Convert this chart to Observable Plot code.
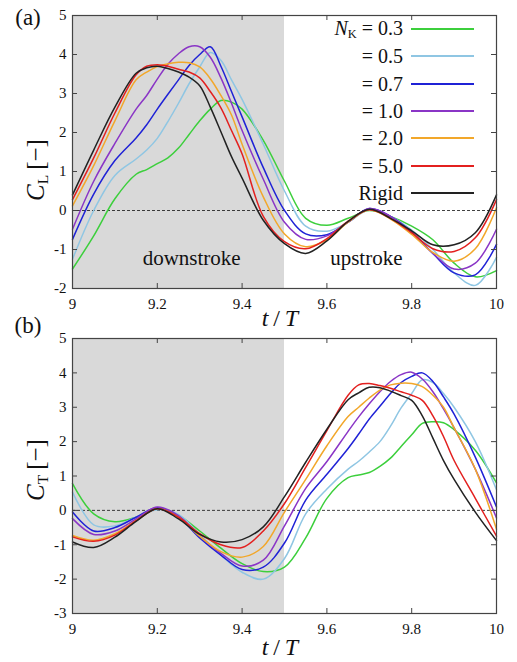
<!DOCTYPE html>
<html><head><meta charset="utf-8">
<script src="https://cdn.jsdelivr.net/npm/d3@7"></script>
<script src="https://cdn.jsdelivr.net/npm/@observablehq/plot@0.6"></script>
<style>
body{margin:0;background:#fff;}
#wrap{position:relative;width:517px;height:662px;font-family:"Liberation Serif","Times New Roman",serif;color:#111;overflow:hidden;}
.abs{position:absolute;white-space:nowrap;line-height:1;}
.c{transform:translate(-50%,-50%);}
.rot{transform:translate(-50%,-50%) rotate(-90deg);}
sub{font-size:62%;vertical-align:-0.25em;font-style:normal;}
.leg{position:absolute;font-size:20px;line-height:1;white-space:nowrap;}
</style></head><body><div id="wrap"></div>
<script>
// ---------- data ----------
const seriesLabels = ["0.3","0.5","0.7","1.0","2.0","5.0","Rigid"];
const seriesColors = ["#3ccf3c","#8fc6e3","#1f22d6","#8a35c6","#f2a72a","#e3201f","#222222"];
const xTicks = [9, 9.2, 9.4, 9.6, 9.8, 10];
const yTicksA = [-2, -1, 0, 1, 2, 3, 4, 5];
const yTicksB = [-3, -2, -1, 0, 1, 2, 3, 4, 5];
const shadeStart = 9, shadeEnd = 9.5;
const phaseLabels = ["downstroke", "upstroke"];
const phaseT = [9.281, 9.693];
const phaseV = [-1.22, -1.22];

const tA = [9, 9.05, 9.1, 9.15, 9.175, 9.2, 9.225, 9.25, 9.275, 9.3, 9.325, 9.35, 9.375, 9.4, 9.45, 9.5, 9.55, 9.6, 9.65, 9.7, 9.75, 9.8, 9.85, 9.9, 9.95, 10];
const cL_03 = [-1.5, -0.65, 0.3, 0.93, 1.05, 1.2, 1.35, 1.6, 1.95, 2.3, 2.6, 2.82, 2.78, 2.6, 1.8, 0.75, -0.2, -0.38, -0.2, 0.0, -0.15, -0.4, -0.75, -1.35, -1.7, -1.54];
const cL_05 = [-1.25, 0.0, 0.9, 1.32, 1.55, 1.85, 2.28, 2.75, 3.25, 3.68, 4.05, 3.85, 3.35, 2.85, 1.7, 0.5, -0.4, -0.53, -0.3, 0.02, -0.15, -0.5, -1.0, -1.6, -1.92, -1.2];
const cL_07 = [-0.74, 0.42, 1.28, 1.86, 2.2, 2.6, 2.98, 3.35, 3.72, 4.0, 4.2, 3.7, 3.05, 2.4, 1.1, 0.0, -0.6, -0.62, -0.3, 0.05, -0.15, -0.55, -1.1, -1.6, -1.65, -0.87];
const cL_10 = [-0.48, 0.75, 1.72, 2.6, 2.95, 3.37, 3.75, 4.02, 4.2, 4.2, 3.93, 3.4, 2.75, 2.05, 0.8, -0.3, -0.74, -0.65, -0.3, 0.05, -0.15, -0.58, -1.1, -1.5, -1.35, -0.48];
const cL_20 = [0.12, 1.15, 2.3, 3.35, 3.55, 3.69, 3.76, 3.8, 3.79, 3.68, 3.38, 2.95, 2.45, 1.7, 0.35, -0.6, -0.93, -0.75, -0.3, 0.02, -0.22, -0.61, -1.08, -1.3, -0.98, 0.07];
const cL_50 = [0.28, 1.35, 2.5, 3.48, 3.7, 3.74, 3.7, 3.62, 3.55, 3.4, 3.05, 2.63, 2.05, 1.45, -0.15, -0.8, -0.98, -0.72, -0.27, 0.02, -0.2, -0.57, -0.98, -1.05, -0.7, 0.28];
const cL_rigid = [0.4, 1.55, 2.65, 3.52, 3.66, 3.7, 3.64, 3.55, 3.42, 3.2, 2.65, 2.02, 1.38, 0.83, -0.25, -0.85, -1.1, -0.78, -0.28, 0.03, -0.2, -0.52, -0.88, -0.88, -0.57, 0.4];

const tB = [9, 9.05, 9.1, 9.15, 9.2, 9.25, 9.3, 9.35, 9.4, 9.45, 9.5, 9.55, 9.6, 9.65, 9.675, 9.7, 9.725, 9.75, 9.775, 9.8, 9.825, 9.85, 9.875, 9.9, 9.95, 10];
const cT_03 = [0.78, -0.1, -0.33, -0.2, 0.05, -0.15, -0.6, -1.1, -1.55, -1.78, -1.65, -0.8, 0.35, 0.95, 1.03, 1.1, 1.28, 1.52, 1.86, 2.2, 2.53, 2.58, 2.55, 2.35, 1.75, 0.8];
const cT_05 = [0.53, -0.42, -0.45, -0.2, 0.02, -0.12, -0.7, -1.3, -1.8, -2.0, -1.4, -0.1, 0.62, 1.2, 1.43, 1.7, 2.0, 2.45, 2.98, 3.4, 3.8, 3.72, 3.4, 3.0, 2.0, 0.6];
const cT_07 = [-0.05, -0.6, -0.5, -0.2, 0.08, -0.2, -0.8, -1.3, -1.72, -1.65, -0.95, 0.3, 1.05, 1.8, 2.22, 2.66, 3.03, 3.4, 3.72, 3.9, 4.0, 3.75, 3.3, 2.8, 1.55, 0.1];
const cT_10 = [-0.24, -0.7, -0.6, -0.25, 0.1, -0.15, -0.75, -1.25, -1.62, -1.45, -0.45, 0.64, 1.42, 2.3, 2.72, 3.1, 3.45, 3.75, 3.95, 4.02, 3.82, 3.45, 2.95, 2.4, 1.2, -0.22];
const cT_20 = [-0.73, -0.87, -0.68, -0.3, 0.05, -0.2, -0.75, -1.2, -1.36, -1.05, -0.05, 0.9, 1.88, 2.73, 3.0, 3.27, 3.5, 3.65, 3.7, 3.69, 3.6, 3.35, 3.0, 2.4, 1.2, -0.55];
const cT_50 = [-0.77, -0.9, -0.72, -0.3, 0.05, -0.2, -0.68, -1.0, -1.08, -0.6, 0.2, 1.25, 2.32, 3.35, 3.65, 3.69, 3.63, 3.55, 3.45, 3.35, 3.2, 2.75, 2.15, 1.45, 0.35, -0.75];
const cT_rigid = [-0.92, -1.08, -0.78, -0.32, 0.05, -0.25, -0.7, -0.92, -0.85, -0.48, 0.4, 1.4, 2.36, 3.22, 3.42, 3.58, 3.57, 3.47, 3.34, 3.2, 2.75, 2.1, 1.45, 0.9, -0.05, -0.88];

// ---------- build ----------
const cLSeries = [cL_03, cL_05, cL_07, cL_10, cL_20, cL_50, cL_rigid];
const cTSeries = [cT_03, cT_05, cT_07, cT_10, cT_20, cT_50, cT_rigid];
const rows = (ts, series) => seriesLabels.flatMap((s, i) => ts.map((t, j) => ({t, v: series[i][j], s})));
const dataA = rows(tA, cLSeries);
const dataB = rows(tB, cTSeries);

const W = 517, ML = 72, MR = 21;
const fmt = d => String(d);
const font = "'Liberation Serif','Times New Roman',serif";

function panel({data, yDomain, yTicks, height, mt, mb, annot}) {
  const innerH = height - mt - mb, innerW = W - ML - MR;
  const innerX = xTicks.slice(1, -1), innerY = yTicks.slice(1, -1);
  return Plot.plot({
    width: W, height, marginLeft: ML, marginRight: MR, marginTop: mt, marginBottom: mb,
    style: {fontFamily: font, fontSize: "15px", color: "#111", background: "transparent", overflow: "visible"},
    x: {domain: [9, 10]},
    y: {domain: yDomain},
    color: {domain: seriesLabels, range: seriesColors},
    marks: [
      Plot.rect([{a: shadeStart, b: shadeEnd}], {x1: "a", x2: "b", y1: yDomain[0], y2: yDomain[1], fill: "#d9d9d9"}),
      Plot.ruleY([0], {stroke: "#111", strokeWidth: 0.8, strokeDasharray: "3,2"}),
      annot ? Plot.text(phaseLabels.map((l, i) => ({l, t: phaseT[i], v: phaseV[i]})), {x: "t", y: "v", text: "l", fontSize: 21, fill: "#111", textAnchor: "middle"}) : null,
      Plot.line(data, {x: "t", y: "v", z: "s", stroke: "s", curve: "catmull-rom", strokeWidth: 1.5}),
      Plot.ruleX(innerX, {insetTop: innerH - 5, stroke: "#444"}),
      Plot.ruleX(innerX, {insetBottom: innerH - 5, stroke: "#444"}),
      Plot.ruleY(innerY, {insetLeft: innerW - 5, stroke: "#444"}),
      Plot.ruleY(innerY, {insetRight: innerW - 5, stroke: "#444"}),
      Plot.frame({stroke: "#444", strokeWidth: 1.2}),
      Plot.axisX(xTicks, {tickSize: 0, tickPadding: 10, tickFormat: fmt, label: null, fontSize: 15}),
      Plot.axisY(yTicks, {tickSize: 0, tickPadding: 6, tickFormat: fmt, label: null, fontSize: 15})
    ]
  });
}

const wrap = document.getElementById("wrap");
function place(node, top) {
  const d = document.createElement("div");
  d.className = "abs"; d.style.left = "0px"; d.style.top = top + "px";
  d.appendChild(node); wrap.appendChild(d);
}
place(panel({data: dataA, yDomain: [-2, 5], yTicks: yTicksA, height: 320, mt: 15, mb: 32, annot: true}), 0);
place(panel({data: dataB, yDomain: [-3, 5], yTicks: yTicksB, height: 342, mt: 18, mb: 49, annot: false}), 320);

function label(html, x, y, size, cls) {
  const d = document.createElement("div");
  d.className = "abs " + cls;
  d.style.left = x + "px"; d.style.top = y + "px"; d.style.fontSize = size + "px";
  d.innerHTML = html; wrap.appendChild(d);
}
label("(a)", 28, 17, 23, "c");
label("(b)", 28, 325, 23, "c");
label("<i>C</i><sub>L</sub>&thinsp;[−]", 37, 170, 25, "rot");
label("<i>C</i><sub>T</sub>&thinsp;[−]", 37, 470, 25, "rot");
label("<i>t</i>&thinsp;/&thinsp;<i>T</i>", 280, 318, 24, "c");
label("<i>t</i>&thinsp;/&thinsp;<i>T</i>", 280, 647, 24, "c");

// legend
seriesLabels.forEach((s, i) => {
  const y = 29 + 27.3 * i;
  const txt = document.createElement("div");
  txt.className = "leg";
  txt.style.right = (W - 403) + "px";
  txt.style.top = y + "px";
  txt.style.transform = "translateY(-50%)";
  txt.innerHTML = s === "Rigid" ? "Rigid" : (i === 0 ? "<i>N</i><sub>K</sub> = " + s : "= " + s);
  wrap.appendChild(txt);
  const ln = document.createElement("div");
  ln.style.position = "absolute";
  ln.style.left = "411px"; ln.style.width = "63px";
  ln.style.top = (y - 1) + "px"; ln.style.height = "2px";
  ln.style.background = seriesColors[i];
  wrap.appendChild(ln);
});
</script></body></html>
